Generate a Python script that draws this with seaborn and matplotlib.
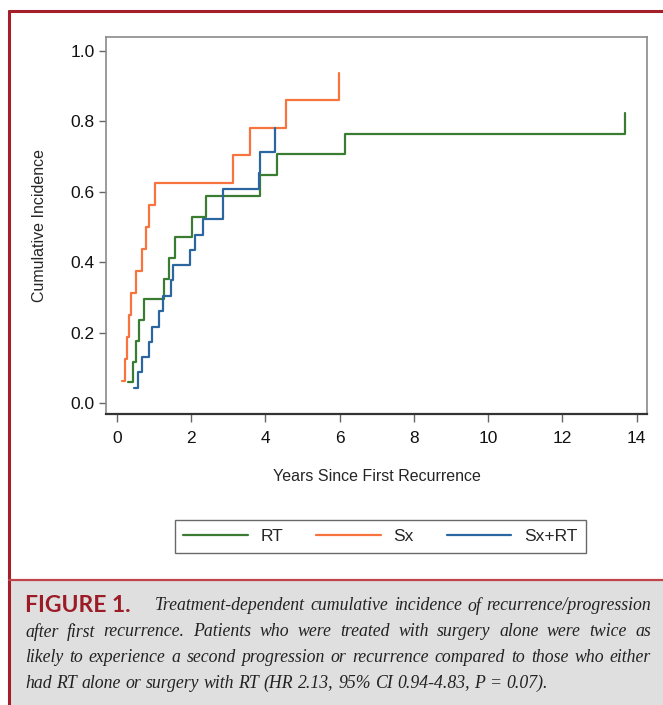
import numpy as np
import pandas as pd
import matplotlib
matplotlib.use("Agg")
import matplotlib.pyplot as plt
from matplotlib.patches import Rectangle
from matplotlib.lines import Line2D
import seaborn as sns

# ---- data (years since first recurrence, cumulative incidence) ----
rt_years = [0.31, 0.45, 0.51, 0.60, 0.73, 1.27, 1.42, 1.56, 2.03, 2.40, 3.87, 4.31, 6.15, 13.69]
rt_cif = [0.059, 0.118, 0.176, 0.235, 0.294, 0.353, 0.412, 0.471, 0.529, 0.588, 0.647, 0.706, 0.765, 0.824]

sx_years = [0.13, 0.22, 0.27, 0.32, 0.385, 0.51, 0.68, 0.78, 0.87, 1.04, 3.14, 3.58, 4.57, 5.99]
sx_cif = [0.0625, 0.125, 0.1875, 0.25, 0.3125, 0.375, 0.4375, 0.5, 0.5625, 0.625, 0.703, 0.781, 0.859, 0.938]

sxrt_years = [0.47, 0.57, 0.67, 0.86, 0.96, 1.13, 1.25, 1.47, 1.52, 1.98, 2.11, 2.31,
              2.85, 2.87, 3.84, 3.87, 4.27]
sxrt_cif = [0.043, 0.087, 0.130, 0.174, 0.217, 0.261, 0.304, 0.348, 0.391, 0.435, 0.478, 0.522,
            0.565, 0.609, 0.652, 0.712, 0.780]

groups = ["RT", "Sx", "Sx+RT"]
colors = {"RT": "#3a7d32", "Sx": "#f7743f", "Sx+RT": "#2b66a0"}

x_ticks = [0, 2, 4, 6, 8, 10, 12, 14]
y_ticks = [0.0, 0.2, 0.4, 0.6, 0.8, 1.0]

caption_lines = [
    "Treatment-dependent cumulative incidence of recurrence/progression",
    "after first recurrence. Patients who were treated with surgery alone were twice as",
    "likely to experience a second progression or recurrence compared to those who either",
    "had RT alone or surgery with RT (HR 2.13, 95% CI 0.94-4.83, P = 0.07).",
]

df = pd.concat([
    pd.DataFrame({"years": rt_years, "cif": rt_cif, "group": "RT"}),
    pd.DataFrame({"years": sx_years, "cif": sx_cif, "group": "Sx"}),
    pd.DataFrame({"years": sxrt_years, "cif": sxrt_cif, "group": "Sx+RT"}),
], ignore_index=True)

sns.set_style("white")
plt.rcParams["font.family"] = ["Liberation Sans", "DejaVu Sans"]

W, H = 663, 705
fig = plt.figure(figsize=(W / 100, H / 100), dpi=100)
ax = fig.add_axes([106 / W, 1 - 414 / H, (647 - 106) / W, (414 - 37) / H])

sns.lineplot(data=df, x="years", y="cif", hue="group", hue_order=groups, palette=colors,
             drawstyle="steps-post", estimator=None, linewidth=1.6, ax=ax)

ax.set_xlim(-0.29, 14.28)
ax.set_ylim(-0.031, 1.039)
ax.set_xticks(x_ticks)
ax.set_yticks(y_ticks)
ax.set_yticklabels([f"{v:.1f}" for v in y_ticks])
ax.tick_params(axis="both", which="major", direction="out", width=1,
               color="#666666", labelsize=12.5, labelcolor="#111111")
ax.tick_params(axis="x", length=6, pad=6)
ax.tick_params(axis="y", length=5, pad=3)
ax.tick_params(left=True, bottom=True)
ax.set_xlabel("Years Since First Recurrence", fontsize=11.5, labelpad=17)
ax.set_ylabel("Cumulative Incidence", fontsize=11.5, labelpad=17)
for side in ["left", "top", "right"]:
    ax.spines[side].set_color("#8a8a8a")
    ax.spines[side].set_linewidth(1.2)
ax.spines["bottom"].set_color("#333333")
ax.spines["bottom"].set_linewidth(1.6)

handles, labels = ax.get_legend_handles_labels()
ax.get_legend().remove()
leg = fig.legend(handles, labels, loc="center", bbox_to_anchor=(380.5 / W, 1 - 536.5 / H),
                 ncol=3, fontsize=12.5, handlelength=3.7, handletextpad=0.75, columnspacing=1.9,
                 frameon=True, fancybox=False, borderpad=0.5)
leg.get_frame().set_edgecolor("#444444")
leg.get_frame().set_linewidth(1.0)

# ---- page decoration: red border and grey caption box ----
red = "#a31f2a"
fig.add_artist(Rectangle((9 / W, 0), 1 - 9 / W, 1 - 580 / H, transform=fig.transFigure,
                         facecolor="#dfdfdf", edgecolor="none", zorder=0))
fig.add_artist(Line2D([9 / W, 1], [1 - 11 / H, 1 - 11 / H], transform=fig.transFigure,
                      color=red, linewidth=2.2))
fig.add_artist(Line2D([9 / W, 9 / W], [0, 1 - 11 / H], transform=fig.transFigure,
                      color=red, linewidth=2.2))
fig.add_artist(Line2D([9 / W, 1], [1 - 580 / H, 1 - 580 / H], transform=fig.transFigure,
                      color="#c0454b", linewidth=1.6))

fig.text(25 / W, 1 - 606 / H, "FIGURE 1.", fontsize=16.5, fontweight="bold",
         color="#9b1c27", family=["Lato", "DejaVu Sans"], va="center", ha="left")

# caption, justified like the journal layout (last line left aligned)
renderer = fig.canvas.get_renderer()
row_y = [606, 632, 657, 683]
right_px = 651
cap_kw = dict(fontsize=12.8, style="italic", family=["Liberation Serif", "DejaVu Serif"],
              color="#222222", va="center", ha="left")
for i, line in enumerate(caption_lines):
    x0 = 155 if i == 0 else 25
    words = line.split(" ")
    texts = [fig.text(0, 1 - row_y[i] / H, w, **cap_kw) for w in words]
    widths = [t.get_window_extent(renderer).width for t in texts]
    if i < len(caption_lines) - 1:
        gap = (right_px - x0 - sum(widths)) / (len(words) - 1)
    else:
        sp = fig.text(0, 0, "a a", **cap_kw)
        aa = fig.text(0, 0, "aa", **cap_kw)
        gap = sp.get_window_extent(renderer).width - aa.get_window_extent(renderer).width
        sp.remove()
        aa.remove()
    x = x0
    for t, w in zip(texts, widths):
        t.set_x(x / W)
        x += w + gap

fig.savefig("out.png", dpi=100)
